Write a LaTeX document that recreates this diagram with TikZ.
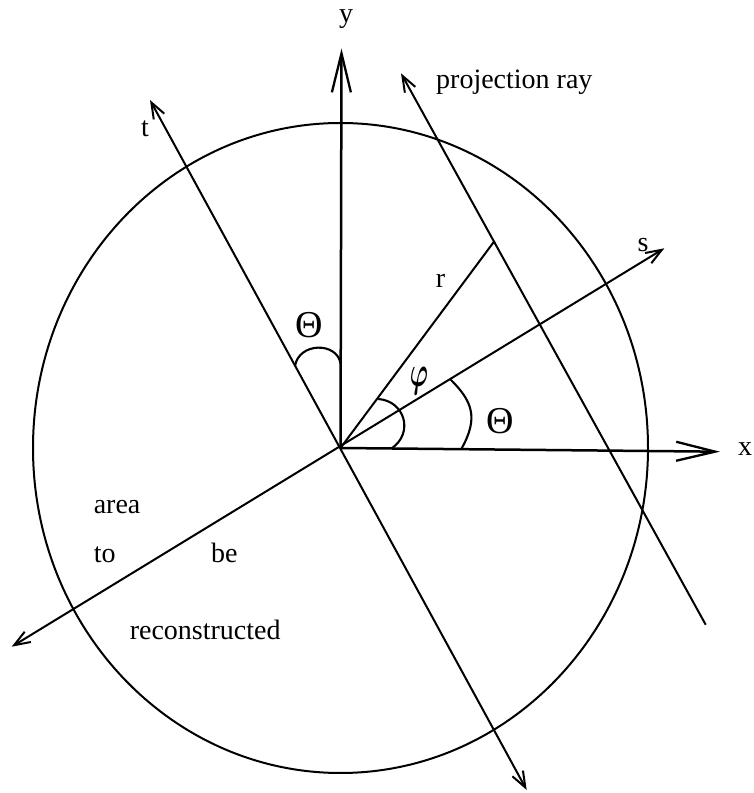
\documentclass[tikz,border=0pt]{standalone}
\usepackage{amsmath}
\usepackage{fontspec}
\setmainfont{Liberation Serif}
\usepackage{tikz}
\usetikzlibrary{arrows.meta}

\begin{document}
\begin{tikzpicture}[
  x=1pt, y=1pt,
  every node/.style={inner sep=0pt},
  lbl/.style={font=\fontsize{28}{30}\selectfont},
  greek/.style={font=\fontsize{38}{40}\selectfont},
  line/.style={line width=2pt},
  axis/.style={line width=2.5pt, -{Straight Barb[length=39pt, width=19pt, line width=2.3pt]}},
  tilted/.style={line width=2pt, {Straight Barb[length=16pt, width=12pt]}-{Straight Barb[length=16pt, width=12pt]}},
  ray/.style={line width=2pt, -{Straight Barb[length=16pt, width=12pt]}},
  angle/.style={line width=2.1pt},
]
  \useasboundingbox[fill=white] (0,0) rectangle (753,793);
  \coordinate (O) at (340.5,345);
  \coordinate (ytip) at (341.5,744.5);
  \coordinate (xtip) at (720,341.3);
  \coordinate (ttop) at (150,693);
  \coordinate (tbot) at (526.7,3);
  \coordinate (stop) at (664.3,544.7);
  \coordinate (sbot) at (11.7,146.3);
  \coordinate (rayA) at (401,719.7);
  \coordinate (rayB) at (705.7,168.3);
  \coordinate (foot) at (494.5,552);
  \coordinate (thA) at (295,427);
  \coordinate (thB) at (340.5,429.7);
  \coordinate (phA) at (378.3,394);
  \coordinate (phB) at (391.7,344.7);
  \coordinate (thC) at (450,414);
  \coordinate (thD) at (461.7,344.7);

  \draw[line] (O) ellipse[x radius=307.5, y radius=325];
  \draw[axis] (O) -- (ytip);
  \draw[axis] (O) -- (xtip);
  \draw[tilted] (tbot) -- (ttop);
  \draw[tilted] (sbot) -- (stop);
  \draw[ray] (rayB) -- (rayA);
  \draw[line] (O) -- (foot);

  \draw[angle] (thA) .. controls (299,451) and (337,451) .. (thB);
  \draw[angle] (phA) .. controls (405,392) and (414,360) .. (phB);
  \draw[angle] (thC) .. controls (472.5,391.9) and (478.7,375.3) .. (thD);

  \node[lbl] (ylab) at (346,774) {y};
  \node[lbl] (xlab) at (745,344) {x};
  \node[lbl] (tlab) at (145,664) {t};
  \node[lbl] (slab) at (643,548) {s};
  \node[lbl] (rlab) at (440.5,512) {r};
  \node[lbl, anchor=base west] (raylab) at (436,704) {projection ray};
  \node[greek] (thetaL) at (309,468) {Θ};
  \node[greek] (thetaR) at (500,371.5) {Θ};
  \node[font=\Large] (phi) at (419,412) {\scalebox{1.7}[3]{$\boldsymbol{\varphi}$}};
  \node[lbl, anchor=base west] (area) at (93.6,279.3) {area};
  \node[lbl, anchor=base west] (to) at (93.6,230) {to};
  \node[lbl, anchor=base west] (be) at (211,230) {be};
  \node[lbl, anchor=base west] (recon) at (129.6,153.3) {reconstructed};
\end{tikzpicture}
\end{document}
